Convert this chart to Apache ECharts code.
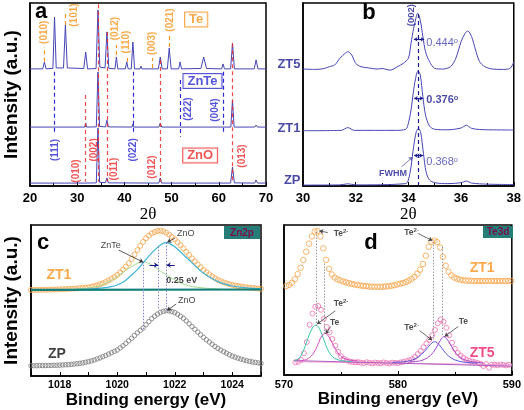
<!DOCTYPE html>
<html><head><meta charset="utf-8">
<script src="https://cdn.jsdelivr.net/npm/echarts@6.0.0/dist/echarts.min.js"></script>
<style>html,body{margin:0;padding:0;background:#fff}#chart{width:524px;height:410px}</style>
</head><body><div id="chart"></div>
<script>
// ===== Panel a : XRD patterns  [2θ, intensity a.u.] =====
const xrdTe = [[20,64],[22.7,64],[23.05,67.8],[23.4,64],[24.85,64.3],[25.2,92.3],[25.55,64.5],[27.1,64.5],[27.5,88],[27.9,64.5],[31.4,64.2],[31.8,73.2],[32.2,64],[34.0,64.2],[34.4,96.2],[34.8,65],[35.9,64.5],[36.3,84.2],[36.7,64.3],[38.0,64],[38.3,70.5],[38.6,64],[40.2,64],[40.5,67.8],[40.8,64],[41.45,64],[41.8,78.7],[42.15,64],[43.3,64],[43.5,65.5],[43.7,64],[47.2,64],[47.6,70.5],[48.0,64],[49.1,64],[49.5,75.4],[49.9,64],[51.5,64],[51.8,67.8],[52.1,64],[56.2,64.2],[56.8,70.5],[57.4,64.2],[60.6,64],[60.9,66.7],[61.2,64],[62.5,64],[62.9,78],[63.3,64],[65.6,64],[65.8,65],[66.0,64],[67.5,64],[67.9,68.9],[68.3,64],[70,64]];
const xrdZnTe = [[20,32.2],[25.0,32.2],[25.2,33],[25.4,32.2],[31.6,32.2],[31.8,34.4],[32.0,32.2],[34.05,32.3],[34.4,62.3],[34.75,32.5],[36.0,32.3],[36.3,36],[36.6,32.3],[41.6,32.2],[41.8,33.9],[42.0,32.2],[47.3,32.2],[47.6,34.4],[47.9,32.2],[56.5,32.2],[56.8,33],[57.1,32.2],[62.55,32.2],[62.9,47],[63.25,32.2],[67.6,32.2],[67.9,33.3],[68.2,32.2],[70,32.2]];
const xrdZnO = [[20,1.6],[31.6,1.6],[31.8,2.5],[32.0,1.6],[34.05,1.7],[34.4,31.7],[34.75,2],[36.0,1.8],[36.3,4.4],[36.6,1.7],[47.3,1.6],[47.6,4.4],[47.9,1.6],[56.5,1.6],[56.8,2.2],[57.1,1.6],[62.5,1.6],[62.9,10.4],[63.3,1.7],[67.6,1.6],[67.9,3.3],[68.2,1.6],[70,1.6]];
const teLines = [[23.05,68,76],[27.5,88,94.5],[38.3,71.6,77],[40.5,67.8,71.6],[45.9,64.5,70],[49.4,76,83.6]];
const teLabels = [[23.05,84,'(010)'],[29.3,93.4,'(101)'],[38.1,86,'(012)'],[40.35,78.7,'(110)'],[45.85,78,'(003)'],[49.8,90.7,'(021)']];
const znteLines = [[25.2,62.5,29.7],[41.8,62.5,28.8],[51.8,57.9,26.9],[61.0,62.5,28.8]];
const znteLabels = [[25.35,19.7,'(111)'],[41.95,19.7,'(022)'],[53.45,42,'(222)'],[59.25,41.5,'(004)']];
const znoLines = [[31.8,49.7,2.3],[34.4,99.3,2.3],[36.3,84.2,2.3],[47.6,68.9,2.3],[62.9,78,2.3]];
const znoLabels = [[29.75,8.2,'(010)'],[33.65,19.7,'(002)'],[37.85,9.3,'(011)'],[45.85,10.4,'(012)'],[64.95,16.4,'(013)']];
const phaseBoxes = [[55.2,91,'Te'],[56.55,57.4,'ZnTe'],[56.05,16.7,'ZnO']];
const ticksA = [20,70,10];

// ===== Panel b : (002) region =====
const zoomZP = [[30,0.5],[31.4,0.6],[31.7,1.2],[32.0,0.6],[33.9,1.3],[34.0,3.3],[34.1,10.5],[34.2,21.5],[34.3,29.7],[34.38,31.5],[34.47,29],[34.57,18],[34.67,7.8],[34.8,3.3],[35.0,1.8],[35.5,1.3],[36.0,1.8],[36.2,2.7],[36.4,1.6],[37,1.0],[38,0.8]];
const zoomZT1 = [[30,30.2],[31.45,30.4],[31.7,31.9],[31.95,30.4],[33.5,30.4],[33.9,31],[34.0,34.3],[34.1,41.5],[34.2,52.5],[34.3,60.7],[34.36,62.8],[34.45,60.7],[34.55,48.8],[34.65,38.8],[34.8,32.8],[35.0,31],[35.5,30.7],[36.0,31.7],[36.2,33.2],[36.4,31.5],[36.8,30.8],[38,30.6]];
const zoomZT5 = [[30,63.9],[30.5,63.7],[30.8,64.2],[31.0,65.2],[31.2,66.1],[31.4,69.8],[31.6,72.5],[31.7,73.4],[31.85,71.6],[32.0,67],[32.2,65.2],[32.5,64.5],[32.8,63.9],[33.0,64.2],[33.3,63.3],[33.6,65.3],[33.8,67],[34.0,69.8],[34.1,78],[34.2,86.2],[34.3,92.5],[34.35,94.4],[34.45,90.7],[34.55,81.6],[34.65,73.4],[34.8,68],[35.0,64.3],[35.3,63.9],[35.6,65.2],[35.8,69.8],[36.0,78.9],[36.15,83.4],[36.25,84.7],[36.4,81.6],[36.55,74.3],[36.7,68],[36.9,65.2],[37.2,63.9],[37.6,63.7],[37.85,64.2],[37.95,66.1],[38,67.8]];
const sampleLabelsB = [[30,66.7,'ZT5'],[30,31.5,'ZT1'],[30,3.3,'ZP']];
const fwhmArrows = [[34.21,80.2,34.6,80.2],[34.22,47.9,34.56,47.9],[34.22,16.6,34.55,16.6]];
const fwhmValues = [[34.66,78,'0.444'],[34.66,47,'0.376'],[34.66,13.3,'0.368']];
const ticksB = [30,38,2];

// ===== Panel c : Zn2p XPS =====
const zn2pStart = 1017, zn2pStep = 0.1;
const zpZn2p = [6.8,6.8,6.8,6.9,6.9,6.9,7.0,7.0,7.1,7.1,7.2,7.3,7.4,7.5,7.7,7.9,8.1,8.4,8.7,9.1,9.5,10.0,10.6,11.3,12.0,12.8,13.6,14.5,15.4,16.3,17.2,18.6,20.0,21.6,23.3,25.0,26.8,28.6,30.2,31.8,33.9,36.0,38.0,39.6,41.0,42.1,42.8,43.2,43.1,42.7,42.0,40.9,39.6,38.2,36.5,34.6,32.7,30.9,29.1,27.3,25.6,24.0,22.5,21.0,19.6,18.3,17.2,16.1,15.1,14.1,13.2,12.5,11.8,11.2,10.6,10.1,9.7,9.3,9.0,8.7,8.4];
const zt1Zn2p = [57.0,57.0,57.0,57.1,57.1,57.1,57.2,57.2,57.3,57.3,57.4,57.5,57.6,57.7,57.8,57.9,58.0,58.2,58.4,58.5,58.7,59.1,59.6,60.1,60.7,61.4,62.3,63.3,64.4,65.6,66.9,68.6,70.5,72.5,74.6,77.5,80.4,83.4,86.2,88.8,91.2,93.0,94.5,95.4,96.0,96.2,95.8,94.9,93.7,92.2,90.5,88.6,86.6,84.5,82.3,80.1,77.9,75.9,73.9,72.0,70.2,68.7,67.3,66.0,64.8,63.6,62.8,62.0,61.3,60.8,60.3,60.0,59.6,59.3,59.0,58.7,58.5,58.3,58.1,57.9,57.8];
const fitZnO = [[1017,57.0],[1018,57.1],[1019,57.6],[1019.5,58.3],[1019.75,59.0],[1020,60.3],[1020.25,62.8],[1020.5,66.9],[1020.75,71.5],[1021,77.2],[1021.25,82.5],[1021.5,86.8],[1021.7,88.3],[1022,85.6],[1022.25,81.2],[1022.5,76.8],[1022.75,72.2],[1023,68],[1023.25,65],[1023.5,62.5],[1023.75,60.8],[1024,59.6],[1024.5,58.4],[1025,57.8]];
const fitZnTe = [[1017,57.0],[1018,57.1],[1019,58.3],[1019.5,60.3],[1020,65.8],[1020.25,69.5],[1020.5,72.4],[1020.75,75],[1020.9,75.7],[1021.1,74.6],[1021.3,72.5],[1021.5,69.5],[1021.75,66.5],[1022,63.6],[1022.25,61.4],[1022.5,59.6],[1023,58.3],[1023.5,57.6],[1024,57.2],[1025,57.0]];
const bgZn2p = [[1017,57.0],[1025,57.3]];
const dotsC = [[1020.9,75.7,30.5],[1021.42,85.6,43.7],[1021.7,88.3,43.2]];
const arrowsC = [[1020.05,83.4,1020.9,75.4],[1022.0,91.2,1021.74,88.6],[1022.05,47.7,1021.74,43.4],[1021.12,73.5,1021.42,73.5],[1022.0,73.5,1021.72,73.5]];
const textsC = [[1019.77,86.1,'ZnTe'],[1022.38,94.5,'ZnO'],[1022.42,49.9,'ZnO'],[1022.24,63.1,'0.25 eV']];
const samplesC = [[1017.97,66.9,'ZT1','#f7941d'],[1017.9,14.6,'ZP','#111']];
const ticksC = [1017,1025,1];

// ===== Panel d : Te3d XPS =====
const te3dStartZT1 = 570.2, te3dStartZT5 = 571.0, te3dStep = 0.25;
const zt1Te3d = [59.3,60.0,61.5,63.8,67.3,71.5,76.7,82.2,87.6,92.4,95.6,96.0,92.3,84.5,76.8,70.8,67.0,65.0,63.8,63.1,62.4,61.8,61.2,60.7,60.3,60.0,59.7,59.4,59.2,59.0,58.9,58.8,58.8,58.8,58.9,59.0,59.2,59.5,59.9,60.4,60.9,61.3,62.0,62.9,64.0,65.4,67.5,70.2,74.0,79.5,85.5,88.8,89.6,88.6,85.0,78.8,72.8,68.8,66.4,65.0,64.2,63.6,63.2,63.0,62.9,62.8,62.7,62.7,62.7,62.7,62.7,62.7,62.7,62.7,62.7,62.7,62.7,62.7,62.7,62.7];
const zt5Te3d = [8.5,8.8,10.0,14.5,22.0,33.5,41.0,45.5,46.0,43.5,37.5,32.0,28.5,24.0,19.5,15.5,12.5,10.8,9.8,9.0,8.7,8.4,8.6,8.2,8.0,8.5,8.1,7.8,8.3,8.0,7.9,8.4,8.0,7.7,8.2,8.1,7.9,8.4,8.8,9.3,9.8,10.6,12.0,14.0,16.0,18.5,21.0,23.5,26.5,30.0,34.5,37.0,35.5,31.5,26.5,21.5,17.5,14.8,13.0,11.5,10.3,9.5,9.0,8.5,8.0,7.5,6.0,7.2,4.8,6.9,6.8,6.5,7.0,6.7,6.4,6.8];
const fitTe2L = [[570.9,9.6],[571.2,10.5],[571.5,13],[571.8,18],[572.1,24.5],[572.4,30],[572.6,32.6],[572.8,33.3],[573.0,32.3],[573.2,29.5],[573.5,23.5],[573.8,17.5],[574.1,13.5],[574.4,11.3],[574.8,10],[575.3,9.3],[576,9.0]];
const fitTeL = [[571.5,9.5],[572.0,10.5],[572.5,13.5],[572.9,19],[573.2,24.5],[573.45,27.3],[573.6,27.8],[573.8,27],[574.1,23.5],[574.4,19],[574.8,14],[575.2,11.3],[575.7,10],[576.5,9.3]];
const fitTe2R = [[579.5,8.4],[580.5,8.8],[581.2,9.8],[581.8,12],[582.3,15.5],[582.7,19],[583.0,21.5],[583.2,22.2],[583.45,21.5],[583.8,18.5],[584.2,14.5],[584.7,11.2],[585.3,9.3],[586,8.4],[587,7.9]];
const fitTeR = [[581,8.6],[582,9.5],[582.6,11.5],[583.1,15],[583.5,20],[583.8,24],[584.0,25.6],[584.25,24.5],[584.6,20.5],[585,15.5],[585.5,11.5],[586.2,9.3],[587.5,8]];
const bgTe3dA = [[570.9,9.6],[590,5.9]];
const bgTe3dB = [[570.9,8.9],[590,6.8]];
const dotsD = [[572.85,95.6,32.2],[573.55,74.4,27.8],[583.1,88.9,23.3],[583.92,85.6,25.6]];
const arrowsD = [[573.85,95,573.1,96],[581.75,94.4,583.02,89.6],[574.5,42.7,572.9,34],[574.1,32.4,573.65,27.5],[581.9,29.6,583.0,23.3],[585.3,32.4,584.1,25.6]];
const textsD = [[575.0,94.4,'Te{s|2-}'],[581.2,95.1,'Te{s|2-}'],[575.0,47.8,'Te{s|2-}'],[574.45,34.9,'Te'],[581.2,31.6,'Te{s|2-}'],[585.75,35.6,'Te']];
const samplesD = [[587.4,71.1,'ZT1','#f7941d'],[587.4,14.4,'ZT5','#ee2266']];
const ticksD = [570,590,10];

// ===== build =====
const F = 'Arial, "Liberation Sans", sans-serif';
const chart = echarts.init(document.getElementById('chart'));
const seq = (x0, st, vals) => vals.map((v, i) => [Math.round((x0 + i * st) * 100) / 100, v]);

function xAx(g, t, extra) {
  return Object.assign({
    type: 'value', gridIndex: g, min: t[0], max: t[1], interval: t[2],
    axisLine: {show: true, onZero: false, lineStyle: {color: '#000', width: 1.5}},
    axisTick: {show: true, inside: true, length: 4, lineStyle: {color: '#000', width: 1}},
    minorTick: {show: true, splitNumber: 2, length: 3, lineStyle: {color: '#000'}},
    splitLine: {show: false}, minorSplitLine: {show: false},
    axisLabel: {color: '#000', fontFamily: F, fontWeight: 'bold', fontSize: 13, margin: 6}
  }, extra || {});
}
function yAx(g, extra) {
  return Object.assign({
    type: 'value', gridIndex: g, min: 0, max: 100,
    axisLine: {show: true, onZero: false, lineStyle: {color: '#000', width: 1.5}},
    axisTick: {show: false}, axisLabel: {show: false}, splitLine: {show: false}
  }, extra || {});
}
function line(g, data, color, width, extra) {
  return Object.assign({type: 'line', xAxisIndex: g, yAxisIndex: g, data, symbol: 'none', showSymbol: false,
    lineStyle: {color, width}, itemStyle: {color}, silent: true, z: 3}, extra || {});
}
function circles(g, data, color, size) {
  return {type: 'scatter', xAxisIndex: g, yAxisIndex: g, data, symbol: 'circle', symbolSize: size, silent: true, z: 2,
    itemStyle: {color: 'rgba(255,255,255,0)', borderColor: color, borderWidth: 1}};
}
function segs(g, list, style, ends, z, size) {
  return {type: 'line', xAxisIndex: g, yAxisIndex: g, data: [[list[0][0], list[0][1]]], symbol: 'none', showSymbol: false,
    lineStyle: {width: 0}, silent: true, z: z || 4,
    markLine: {silent: true, animation: false, symbol: ends || ['none', 'none'], symbolSize: size || 5, label: {show: false},
      lineStyle: style, emphasis: {disabled: true},
      data: list.map(s => s.length === 3 ? [{coord: [s[0], s[1]]}, {coord: [s[0], s[2]]}] : [{coord: [s[0], s[1]]}, {coord: [s[2], s[3]]}])}};
}
function texts(g, list, label, z) {
  return {type: 'scatter', xAxisIndex: g, yAxisIndex: g, symbolSize: 1, silent: true, z: z || 6, clip: false,
    itemStyle: {color: 'rgba(0,0,0,0)'},
    data: list.map(t => ({value: [t[0], t[1]], name: t[2], label: t[3] ? {color: t[3]} : undefined})),
    label: Object.assign({show: true, position: 'inside', formatter: p => p.name, fontFamily: F}, label)};
}
const grid = (left, top, width, height) => ({left, top, width, height, show: true, borderColor: '#000', borderWidth: 1.5, backgroundColor: 'transparent'});
const hkl = (color) => ({rotate: 90, fontSize: 10, fontWeight: 'bold', color});
const supRich = {s: {fontSize: 6, verticalAlign: 'top', fontFamily: F, color: '#222', padding: [0, 0, 4, 0]}};
const xrdC = '#4646b6', navy = '#1c1c8f';

const option = {
  animation: false,
  backgroundColor: '#fff',
  grid: [grid(30, 3, 236, 183), grid(303, 3, 211, 183), grid(31, 225, 230, 151), grid(284, 225, 230, 150)],
  xAxis: [
    xAx(0, ticksA, {name: '2θ', nameLocation: 'middle', nameGap: 18, nameTextStyle: {fontFamily: '"Liberation Serif","Times New Roman",serif', fontSize: 17, color: '#000'}}),
    xAx(1, ticksB, {name: '2θ', nameLocation: 'middle', nameGap: 18, nameTextStyle: {fontFamily: '"Liberation Serif","Times New Roman",serif', fontSize: 17, color: '#000'}}),
    xAx(2, ticksC, {minorTick: {show: false}, axisLabel: {color: '#000', fontFamily: F, fontWeight: 'bold', fontSize: 10.5, margin: 4, formatter: v => (v % 2 === 0 ? String(v) : '')},
      name: 'Binding energy (eV)', nameLocation: 'middle', nameGap: 14, nameTextStyle: {fontFamily: F, fontWeight: 'bold', fontSize: 17, color: '#000'}}),
    xAx(3, ticksD, {axisLabel: {color: '#000', fontFamily: F, fontWeight: 'bold', fontSize: 11, margin: 4},
      name: 'Binding energy (eV)', nameLocation: 'middle', nameGap: 14, nameTextStyle: {fontFamily: F, fontWeight: 'bold', fontSize: 17, color: '#000'}})
  ],
  yAxis: [
    yAx(0, {name: 'Intensity (a.u.)', nameLocation: 'middle', nameGap: 9, nameRotate: 90, nameTextStyle: {fontFamily: F, fontWeight: 'bold', fontSize: 19, color: '#000'}}),
    yAx(1),
    yAx(2, {name: 'Intensity (a.u.)', nameLocation: 'middle', nameGap: 10, nameRotate: 90, nameTextStyle: {fontFamily: F, fontWeight: 'bold', fontSize: 19, color: '#000'}}),
    yAx(3)
  ],
  series: [
    // panel a
    line(0, xrdTe, xrdC, 1), line(0, xrdZnTe, xrdC, 1), line(0, xrdZnO, xrdC, 1),
    segs(0, teLines, {color: '#f7941d', width: 1.2, type: [4, 3]}),
    segs(0, znteLines, {color: '#2b2bd0', width: 1.2, type: [4, 3]}),
    segs(0, znoLines, {color: '#ee2b2b', width: 1.2, type: [4, 3], opacity: 0.85}),
    texts(0, teLabels, hkl('#f7941d')),
    texts(0, znteLabels, hkl('#2b2bd0')),
    texts(0, znoLabels, hkl('#ee2b2b')),
    texts(0, [phaseBoxes[0]], {fontSize: 13, fontWeight: 'bold', color: '#f7941d', borderColor: '#f7941d', borderWidth: 1, padding: [1, 4, 0, 4], backgroundColor: '#fff'}),
    texts(0, [phaseBoxes[1]], {fontSize: 13, fontWeight: 'bold', color: '#2b2bd0', borderColor: '#2b2bd0', borderWidth: 1, padding: [1, 4, 0, 4], backgroundColor: '#fff'}),
    texts(0, [phaseBoxes[2]], {fontSize: 13, fontWeight: 'bold', color: '#ee2b2b', borderColor: '#ee2b2b', borderWidth: 1, padding: [1, 4, 0, 4], backgroundColor: '#fff'}),
    // panel b
    line(1, zoomZT5, xrdC, 1, {smooth: 0.3}), line(1, zoomZT1, xrdC, 1, {smooth: 0.3}), line(1, zoomZP, xrdC, 1, {smooth: 0.3}),
    segs(1, [[34.37, 94, 0.5]], {color: navy, width: 1.2, type: [4, 3]}),
    segs(1, fwhmArrows, {color: navy, width: 1.2, type: 'solid'}, ['arrow', 'arrow'], 4, 3.5),
    segs(1, [[33.74, 10.5, 34.16, 15.8]], {color: '#5a5ab0', width: 0.8, type: 'solid'}, ['none', 'arrow'], 4, 4),
    texts(1, [[34.12, 93.4, '(002)']], {rotate: 90, fontSize: 9.5, fontWeight: 'bold', color: navy}),
    texts(1, [[33.42, 6.6, 'FWHM']], {fontSize: 9, fontWeight: 'bold', color: navy}),
    texts(1, sampleLabelsB, {position: 'left', distance: 2, fontSize: 13, fontWeight: 'bold', color: navy}),
    texts(1, fwhmValues.slice(0, 1).concat(fwhmValues.slice(2)), {position: 'right', distance: 0, formatter: p => '{v|' + p.name + '}{o|o}',
      rich: {v: {fontSize: 11, color: '#4040b0', fontFamily: F}, o: {fontSize: 7.5, color: '#4040b0', verticalAlign: 'top', fontFamily: F, padding: [0, 0, 4, 0]}}}),
    texts(1, fwhmValues.slice(1, 2), {position: 'right', distance: 0, formatter: p => '{v|' + p.name + '}{o|o}',
      rich: {v: {fontSize: 11, fontWeight: 'bold', color: navy, fontFamily: F}, o: {fontSize: 7.5, fontWeight: 'bold', color: navy, verticalAlign: 'top', fontFamily: F, padding: [0, 0, 4, 0]}}}),
    // panel c
    circles(2, seq(zn2pStart, zn2pStep, zpZn2p), '#7a7a7a', 4.5),
    circles(2, seq(zn2pStart, zn2pStep, zt1Zn2p), '#f7a448', 5),
    line(2, fitZnTe, '#a6dc8e', 1, {smooth: 0.3}),
    line(2, fitZnO, '#3fb4d8', 1.2, {smooth: 0.3}),
    line(2, bgZn2p, '#137f7a', 2.2),
    segs(2, dotsC, {color: '#8585cc', width: 1, type: [1.5, 1.5]}, null, 3),
    segs(2, arrowsC.slice(0, 3), {color: '#333', width: 0.8, type: 'solid'}, ['none', 'arrow'], 4, 4),
    segs(2, arrowsC.slice(3), {color: navy, width: 1, type: 'solid'}, ['none', 'arrow'], 4, 4),
    texts(2, textsC.slice(0, 3), {fontSize: 9, color: '#111'}),
    texts(2, textsC.slice(3), {fontSize: 9, fontWeight: 'bold', color: '#111'}),
    texts(2, samplesC, {fontSize: 14, fontWeight: 'bold'}),
    // panel d
    circles(3, seq(te3dStartZT1, te3dStep, zt1Te3d), '#f7a448', 5.5),
    line(3, bgTe3dB, '#f0a0d0', 1),
    line(3, bgTe3dA, '#b060c0', 1),
    line(3, fitTe2L, '#36c8aa', 1, {smooth: 0.3}),
    line(3, fitTeL, '#d54fc4', 1, {smooth: 0.3}),
    line(3, fitTe2R, '#5555d5', 1, {smooth: 0.3}),
    line(3, fitTeR, '#a544c8', 1, {smooth: 0.3}),
    circles(3, seq(te3dStartZT5, te3dStep, zt5Te3d), '#f070b0', 5),
    segs(3, dotsD, {color: '#9a9a9a', width: 1, type: [1.5, 1.5]}, null, 3),
    segs(3, arrowsD, {color: '#444', width: 0.8, type: 'solid'}, ['none', 'arrow'], 4, 4),
    texts(3, textsD, {fontSize: 8.5, fontWeight: 'bold', color: '#222', rich: supRich}),
    texts(3, samplesD, {fontSize: 14, fontWeight: 'bold'})
  ],
  graphic: [
    {type: 'text', x: 41, y: 12, style: {text: 'a', font: 'bold 22px Arial', fill: '#000', textAlign: 'center', textVerticalAlign: 'middle', align: 'center', verticalAlign: 'middle'}},
    {type: 'text', x: 369, y: 13, style: {text: 'b', font: 'bold 22px Arial', fill: '#000', textAlign: 'center', textVerticalAlign: 'middle', align: 'center', verticalAlign: 'middle'}},
    {type: 'text', x: 43, y: 243, style: {text: 'c', font: 'bold 22px Arial', fill: '#000', textAlign: 'center', textVerticalAlign: 'middle', align: 'center', verticalAlign: 'middle'}},
    {type: 'text', x: 371, y: 243, style: {text: 'd', font: 'bold 22px Arial', fill: '#000', textAlign: 'center', textVerticalAlign: 'middle', align: 'center', verticalAlign: 'middle'}},
    {type: 'rect', shape: {x: 224, y: 226, width: 36, height: 13}, style: {fill: '#267d77'}},
    {type: 'text', x: 242, y: 233, style: {text: 'Zn2p', font: 'bold 10px Arial', fill: '#7a1050', textAlign: 'center', textVerticalAlign: 'middle', align: 'center', verticalAlign: 'middle'}},
    {type: 'rect', shape: {x: 483, y: 226, width: 30, height: 12}, style: {fill: '#267d77'}},
    {type: 'text', x: 498, y: 232.5, style: {text: 'Te3d', font: 'bold 10px Arial', fill: '#7a1050', textAlign: 'center', textVerticalAlign: 'middle', align: 'center', verticalAlign: 'middle'}}
  ]
};
chart.setOption(option);
</script>
</body></html>
